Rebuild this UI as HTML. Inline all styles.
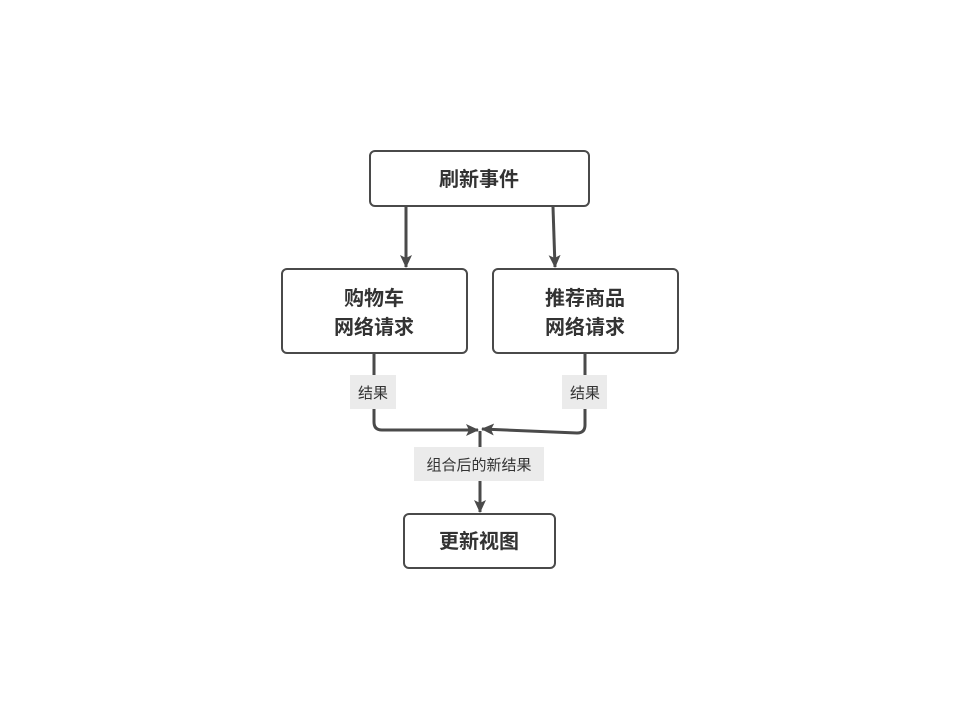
<!DOCTYPE html>
<html><head><meta charset="utf-8"><style>
body{margin:0;background:#fff;width:959px;height:720px;overflow:hidden;font-family:"Liberation Sans","Noto Sans CJK SC",sans-serif;}
</style></head><body>
<svg width="959" height="720" xmlns="http://www.w3.org/2000/svg" style="position:absolute;left:0;top:0">
<defs><marker id="a" markerWidth="14" markerHeight="14" refX="12" refY="6" orient="auto" markerUnits="userSpaceOnUse"><path d="M0,0 L13,6 L0,12 L3,6 Z" fill="#4a4a4a"/></marker></defs>
<g fill="#fff" stroke="#4a4a4a" stroke-width="2">
<rect x="370" y="151" width="219" height="55" rx="5"/>
<rect x="282" y="269" width="185" height="84" rx="5"/>
<rect x="493" y="269" width="185" height="84" rx="5"/>
<rect x="404" y="514" width="151" height="54" rx="5"/>
</g>
<g stroke="#4a4a4a" stroke-width="3" fill="none">
<path d="M406,207 L406,267" marker-end="url(#a)"/>
<path d="M553,207 L555,267" marker-end="url(#a)"/>
<path d="M374,354 L374,422 Q374,430 382,430 L478,430" marker-end="url(#a)"/>
<path d="M585,354 L585,425 Q585,433 577,433 L482,429" marker-end="url(#a)"/>
<path d="M480,431 L480,512" marker-end="url(#a)"/>
</g>
<rect x="350" y="375" width="46" height="34" fill="#ebebeb"/>
<rect x="562" y="375" width="45" height="34" fill="#ebebeb"/>
<rect x="414" y="447" width="130" height="34" fill="#ebebeb"/>
<g font-family="Liberation Sans, Noto Sans CJK SC, sans-serif" fill="#333" text-anchor="middle">
<text x="479" y="186" font-size="20" font-weight="bold">刷新事件</text>
<text x="374" y="305" font-size="20" font-weight="bold">购物车</text>
<text x="374" y="334" font-size="20" font-weight="bold">网络请求</text>
<text x="585" y="305" font-size="20" font-weight="bold">推荐商品</text>
<text x="585" y="334" font-size="20" font-weight="bold">网络请求</text>
<text x="479" y="548" font-size="20" font-weight="bold">更新视图</text>
<text x="373" y="398" font-size="15">结果</text>
<text x="585" y="398" font-size="15">结果</text>
<text x="479" y="470" font-size="15">组合后的新结果</text>
</g>
</svg>
</body></html>
